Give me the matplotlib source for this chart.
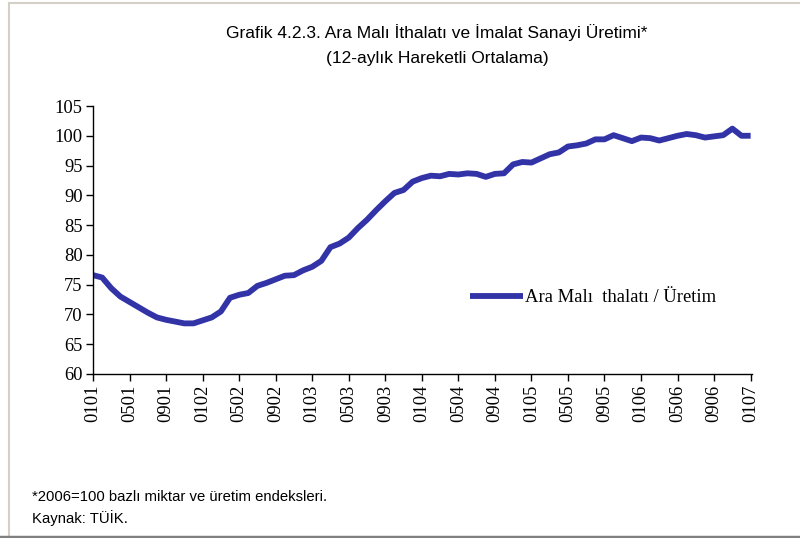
import matplotlib
matplotlib.use("Agg")
import matplotlib.pyplot as plt
import numpy as np

# ay etiketleri (her 4 ayda bir) ve 12 aylık hareketli ortalama değerleri
tick_labels = ["0101", "0501", "0901", "0102", "0502", "0902", "0103", "0503", "0903", "0104",
               "0504", "0904", "0105", "0505", "0905", "0106", "0506", "0906", "0107"]
values = [76.6, 76.2, 74.4, 73.0, 72.1, 71.2, 70.3, 69.5, 69.1, 68.8,
          68.5, 68.5, 69.0, 69.5, 70.5, 72.8, 73.3, 73.6, 74.8, 75.3,
          75.9, 76.5, 76.6, 77.4, 78.0, 79.0, 81.3, 81.9, 82.9, 84.5,
          85.9, 87.5, 89.0, 90.4, 90.9, 92.3, 92.9, 93.3, 93.2, 93.6,
          93.5, 93.7, 93.6, 93.1, 93.6, 93.7, 95.2, 95.6, 95.5, 96.2,
          96.9, 97.2, 98.2, 98.4, 98.7, 99.4, 99.4, 100.1, 99.6, 99.1,
          99.7, 99.6, 99.2, 99.6, 100.0, 100.3, 100.1, 99.7, 99.9, 100.1,
          101.2, 100.0, 100.0]
series_name = "Ara Malı  thalatı / Üretim"

title1 = "Grafik 4.2.3. Ara Malı İthalatı ve İmalat Sanayi Üretimi*"
title2 = "(12-aylık Hareketli Ortalama)"
note1 = "*2006=100 bazlı miktar ve üretim endeksleri."
note2 = "Kaynak: TÜİK."

sans = ["Liberation Sans Narrow", "Liberation Sans", "DejaVu Sans"]
serif = ["Liberation Serif", "DejaVu Serif"]

fig = plt.figure(figsize=(8, 5.38), dpi=100)
ax = fig.add_axes([93 / 800, (538 - 374) / 538, (752 - 93) / 800, (374 - 106) / 538])

x = np.arange(len(values))
line, = ax.plot(x, values, color="#3333a8", lw=4.2, solid_capstyle="butt")

ax.set_xlim(0, 72.15)
ax.set_ylim(60, 105)
ax.set_yticks(range(60, 106, 5))
ax.set_xticks(range(0, 73, 4))
ax.set_xticklabels(tick_labels, rotation=90, family=serif, fontsize=13.3)
for lab in ax.get_yticklabels():
    lab.set_family(serif)
    lab.set_fontsize(13.3)
ax.tick_params(axis="both", direction="out", length=5, width=1, colors="black", pad=2.5)
for s in ["top", "right"]:
    ax.spines[s].set_visible(False)
for s in ["left", "bottom"]:
    ax.spines[s].set_color("black")
    ax.spines[s].set_linewidth(1)

ax.legend([line], [series_name], loc="center left", bbox_to_anchor=(0.572, 0.284),
          frameon=False, prop={"family": serif, "size": 13.4},
          handlelength=2.85, handletextpad=0.1, borderpad=0, borderaxespad=0)

fig.text(437 / 800, 1 - 33 / 538, title1, ha="center", va="center", family=sans, fontsize=12.5)
fig.text(437 / 800, 1 - 58 / 538, title2, ha="center", va="center", family=sans, fontsize=12.5)
fig.text(32 / 800, 1 - 497 / 538, note1, ha="left", va="center", family=sans, fontsize=10.7)
fig.text(32 / 800, 1 - 518 / 538, note2, ha="left", va="center", family=sans, fontsize=10.7)

# çerçeve çizgileri
fig.add_artist(plt.Line2D([8.5 / 800, 8.5 / 800], [0, 1 - 2.5 / 538], color="#d4d0c8", lw=1.5))
fig.add_artist(plt.Line2D([8.5 / 800, 1], [1 - 2.5 / 538, 1 - 2.5 / 538], color="#d4d0c8", lw=1.5))
fig.add_artist(plt.Line2D([0, 1], [1.5 / 538, 1.5 / 538], color="#808080", lw=2.5))

fig.savefig("out.png", dpi=100)
